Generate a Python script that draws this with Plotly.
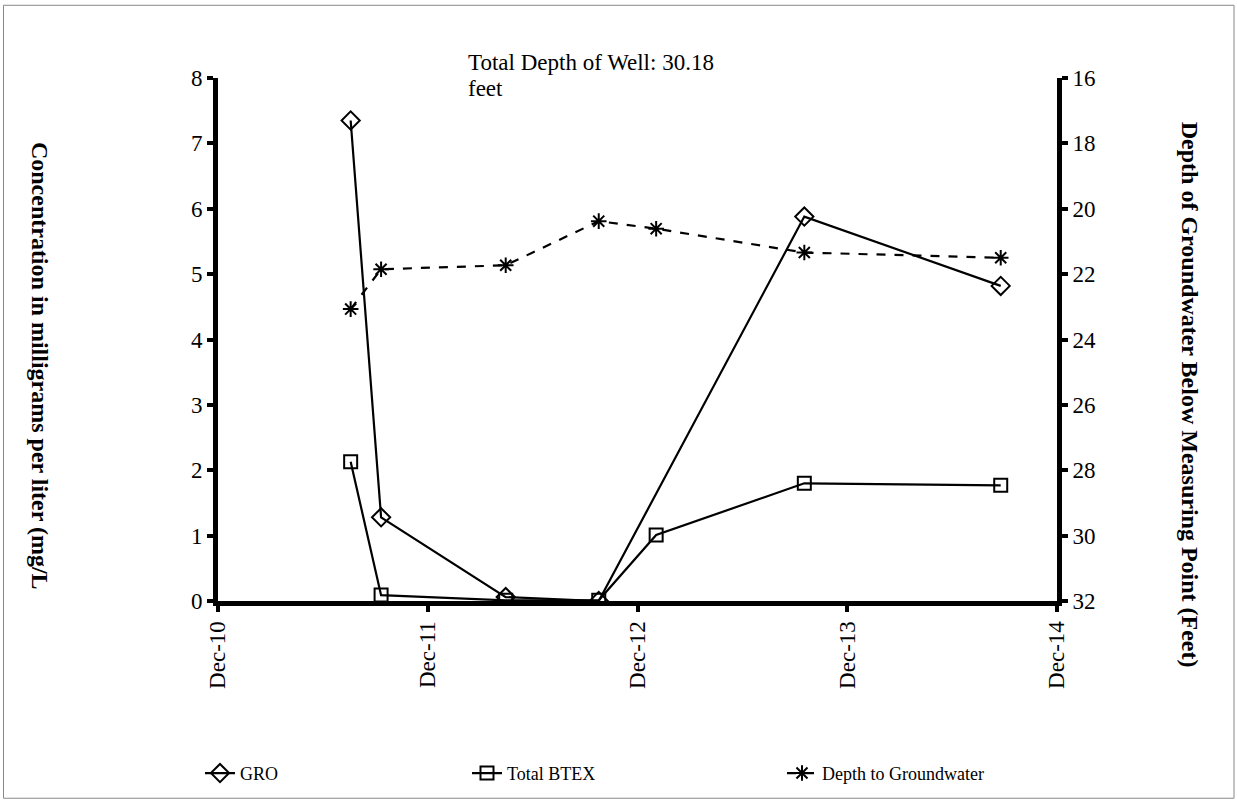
import plotly.graph_objects as go

# ---- data ----
all_dates = ["2011-07-20", "2011-09-11", "2012-04-15", "2012-09-24",
             "2013-01-02", "2013-09-17", "2014-08-25"]
gro_dates = ["2011-07-20", "2011-09-11", "2012-04-15", "2012-09-24",
             "2013-09-17", "2014-08-25"]
gro_values = [7.35, 1.28, 0.06, 0.0, 5.88, 4.82]
btex_dates = all_dates
btex_values = [2.13, 0.09, 0.01, 0.01, 1.01, 1.80, 1.77]
depth_dates = all_dates
depth_values = [23.07, 21.85, 21.73, 20.38, 20.61, 21.34, 21.50]

x_tick_vals = ["2010-12-01", "2011-12-01", "2012-12-01", "2013-12-01", "2014-12-01"]
x_tick_text = ["Dec-10", "Dec-11", "Dec-12", "Dec-13", "Dec-14"]

FONT = "Liberation Serif"

fig = go.Figure()
fig.add_trace(go.Scatter(
    x=gro_dates, y=gro_values, name="GRO", mode="lines+markers",
    line=dict(color="black", width=2.2),
    marker=dict(symbol="diamond-open", size=14, color="black", line=dict(width=2)),
    legend="legend", yaxis="y"))
fig.add_trace(go.Scatter(
    x=btex_dates, y=btex_values, name="Total BTEX", mode="lines+markers",
    line=dict(color="black", width=2.2),
    marker=dict(symbol="square-open", size=13, color="black", line=dict(width=2)),
    legend="legend2", yaxis="y"))
fig.add_trace(go.Scatter(
    x=depth_dates, y=depth_values, name="Depth to Groundwater", mode="lines+markers",
    line=dict(color="black", width=2.2, dash="dash"),
    marker=dict(symbol="asterisk-open", size=13, color="black", line=dict(width=2)),
    legend="legend3", yaxis="y2"))

axis_common = dict(showgrid=False, zeroline=False, linecolor="black", linewidth=5,
                   ticks="outside", ticklen=6, tickwidth=4, tickcolor="black",
                   tickfont=dict(family=FONT, size=23, color="black"), showline=True)
inside_ticks = dict(showgrid=False, zeroline=False, showline=False, ticks="inside",
                    ticklen=6, tickwidth=4, tickcolor="black", showticklabels=False)

LEG_Y = (603 - 776) / 525
leg_common = dict(y=LEG_Y, xanchor="left", yanchor="middle", orientation="h",
                  bgcolor="rgba(0,0,0,0)", itemwidth=30,
                  font=dict(family=FONT, size=18, color="black"))

fig.update_layout(
    width=1237, height=804, showlegend=True,
    margin=dict(l=218, r=180, t=78, b=201),
    paper_bgcolor="white", plot_bgcolor="white",
    font=dict(family=FONT, color="black"),
    xaxis=dict(type="date", range=["2010-12-01", "2014-12-01"],
               tickvals=x_tick_vals, ticktext=x_tick_text, tickangle=-90,
               **axis_common),
    yaxis=dict(range=[0, 8], tickvals=[0, 1, 2, 3, 4, 5, 6, 7, 8], **axis_common),
    yaxis2=dict(range=[32, 16], tickvals=[16, 18, 20, 22, 24, 26, 28, 30, 32],
                overlaying="y", side="right", anchor="x", **axis_common),
    xaxis2=dict(type="date", range=["2010-12-01", "2014-12-01"], tickvals=x_tick_vals,
                overlaying="x", anchor="y", side="bottom", **inside_ticks),
    yaxis3=dict(range=[0, 8], tickvals=[0, 1, 2, 3, 4, 5, 6, 7, 8], overlaying="y",
                side="left", anchor="x", **inside_ticks),
    yaxis4=dict(range=[32, 16], tickvals=[16, 18, 20, 22, 24, 26, 28, 30, 32],
                overlaying="y", side="right", anchor="x", **inside_ticks),
    legend=dict(x=(200 - 218) / 839, **leg_common),
    legend2=dict(x=(467 - 218) / 839, **leg_common),
    legend3=dict(x=(782 - 218) / 839, **leg_common),
    annotations=[
        dict(text="Total Depth of Well: 30.18", xref="paper", yref="paper",
             x=(466 - 218) / 839, y=(603 - 62) / 525, xanchor="left", yanchor="middle",
             align="left", showarrow=False,
             font=dict(family=FONT, size=23, color="black")),
        dict(text="feet", xref="paper", yref="paper",
             x=(466 - 218) / 839, y=(603 - 89) / 525, xanchor="left", yanchor="middle",
             align="left", showarrow=False,
             font=dict(family=FONT, size=23, color="black")),
        dict(text="<b>Concentration in milligrams per liter (mg/L</b>", xref="paper",
             yref="paper", x=(40 - 218) / 839, y=(603 - 367) / 525, textangle=90,
             xanchor="center", yanchor="middle", showarrow=False,
             font=dict(family=FONT, size=24, color="black")),
        dict(text="<b>Depth of Groundwater Below Measuring Point (Feet)</b>", xref="paper",
             yref="paper", x=(1190 - 218) / 839, y=(603 - 396) / 525, textangle=90,
             xanchor="center", yanchor="middle", showarrow=False,
             font=dict(family=FONT, size=24, color="black")),
    ],
    shapes=[dict(type="rect", xref="paper", yref="paper",
                 x0=(3.5 - 218) / 839, x1=(1234 - 218) / 839,
                 y0=(603 - 801) / 525, y1=(603 - 5) / 525,
                 line=dict(color="#888888", width=1), fillcolor="rgba(0,0,0,0)",
                 layer="below")],
)

fig.write_html("out.html", config={"displayModeBar": False},
               post_script="document.body.style.margin='0';"
                           "document.body.style.overflow='hidden';")
